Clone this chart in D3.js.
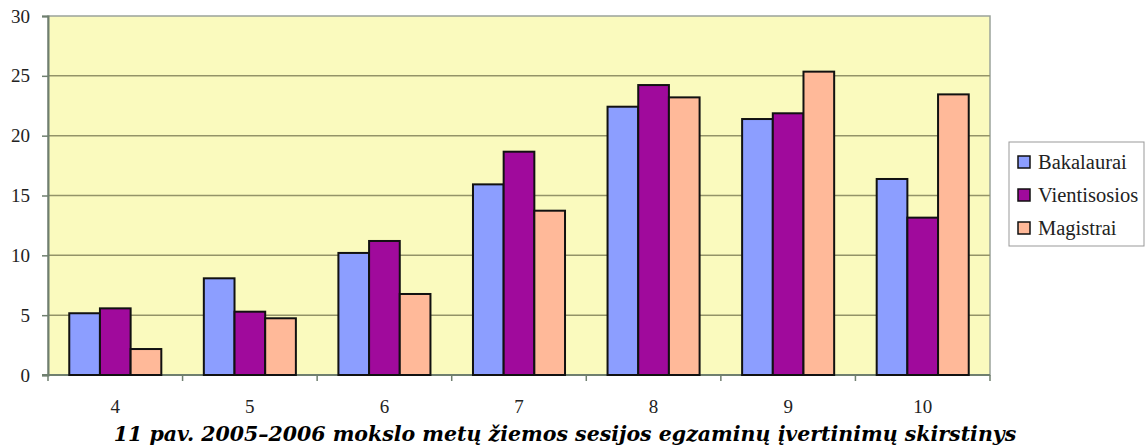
<!DOCTYPE html>
<html>
<head>
<meta charset="utf-8">
<script src="https://cdn.jsdelivr.net/npm/d3@7"></script>
<style>
  body { margin: 0; background: #fff; }
  svg { display: block; }
</style>
</head>
<body>
<div class="container"></div>
<script>
// data
var grades = ["4", "5", "6", "7", "8", "9", "10"];
var seriesNames = ["Bakalaurai", "Vientisosios", "Magistrai"];
var bakalaurai   = [5.16, 8.08, 10.2, 15.93, 22.42, 21.39, 16.38];
var vientisosios = [5.57, 5.29, 11.2, 18.66, 24.23, 21.87, 13.15];
var magistrai    = [2.17, 4.74, 6.77, 13.73, 23.2, 25.35, 23.45];
var yTicks = [0, 5, 10, 15, 20, 25, 30];
var caption = "11 pav. 2005\u20132006 mokslo metų žiemos sesijos egzaminų įvertinimų skirstinys";

var colors = {"Bakalaurai": "#8c9eff", "Vientisosios": "#a00a9c", "Magistrai": "#ffb999"};
var serif = "Liberation Serif";

var width = 1147, height = 446;
var plot = {left: 48, top: 16, right: 990, bottom: 375};

var rows = grades.map(function(g, i) {
  return {grade: g, values: [bakalaurai[i], vientisosios[i], magistrai[i]]};
});

var x0 = d3.scaleBand().domain(grades)
    .range([plot.left, plot.right])
    .paddingInner(0.316).paddingOuter(0.158);
var x1 = d3.scaleBand().domain(seriesNames)
    .range([0, x0.bandwidth()]);
var xCat = d3.scaleBand().domain(grades).range([plot.left, plot.right]);
var y = d3.scaleLinear().domain([0, 30]).range([plot.bottom, plot.top]);

var svg = d3.select(".container").append("svg")
    .attr("width", width).attr("height", height);

// plot background
svg.append("rect")
    .attr("x", plot.left).attr("y", plot.top)
    .attr("width", plot.right - plot.left).attr("height", plot.bottom - plot.top)
    .attr("fill", "#fafabe")
    .attr("stroke", "#9aa39a").attr("stroke-width", 1.5);

// gridlines
svg.append("g").selectAll("line")
  .data(yTicks.filter(function(d) { return d > 0 && d < 30; }))
  .enter().append("line")
    .attr("x1", plot.left).attr("x2", plot.right)
    .attr("y1", function(d) { return y(d); }).attr("y2", function(d) { return y(d); })
    .attr("stroke", "#939368").attr("stroke-width", 1.5);

// y axis
var yAxis = d3.axisLeft(y).tickValues(yTicks).tickSize(6).tickPadding(12);
var gy = svg.append("g").attr("transform", "translate(" + plot.left + ",0)").call(yAxis);
gy.select(".domain").attr("stroke", "#6f7f6f").attr("stroke-width", 2);
gy.selectAll(".tick line").attr("stroke", "#6f7f6f").attr("stroke-width", 1.5);
gy.selectAll("text")
    .style("font-family", serif).style("font-size", "19px").attr("fill", "#222");

// x axis: ticks at category boundaries
var gx = svg.append("g").attr("transform", "translate(0," + plot.bottom + ")");
gx.append("line").attr("x1", plot.left - 6).attr("x2", plot.right)
    .attr("stroke", "#6f7f6f").attr("stroke-width", 2);
var bounds = grades.map(function(g) { return xCat(g); }).concat([plot.right]);
gx.selectAll(".xt").data(bounds).enter().append("line")
    .attr("x1", function(d) { return d; }).attr("x2", function(d) { return d; })
    .attr("y1", 0).attr("y2", 6)
    .attr("stroke", "#6f7f6f").attr("stroke-width", 1.5);
gx.selectAll("text").data(grades).enter().append("text")
    .attr("x", function(d) { return xCat(d) + xCat.bandwidth() / 2; })
    .attr("y", 38)
    .attr("text-anchor", "middle")
    .style("font-family", serif).style("font-size", "19px").attr("fill", "#222")
    .text(function(d) { return d; });

// bars
var groups = svg.append("g").selectAll("g").data(rows).enter().append("g")
    .attr("transform", function(d) { return "translate(" + x0(d.grade) + ",0)"; });
groups.selectAll("rect")
  .data(function(d) { return d.values.map(function(v, i) { return {name: seriesNames[i], value: v}; }); })
  .enter().append("rect")
    .attr("x", function(d) { return x1(d.name); })
    .attr("y", function(d) { return y(d.value); })
    .attr("width", x1.bandwidth())
    .attr("height", function(d) { return y(0) - y(d.value); })
    .attr("fill", function(d) { return colors[d.name]; })
    .attr("stroke", "#111").attr("stroke-width", 2);

// legend
var lg = svg.append("g").attr("transform", "translate(1009,142)");
lg.append("rect").attr("width", 135).attr("height", 104)
    .attr("fill", "#fff").attr("stroke", "#999").attr("stroke-width", 1);
var li = lg.selectAll(".li").data(seriesNames).enter().append("g")
    .attr("transform", function(d, i) { return "translate(9," + (20 + i * 33) + ")"; });
li.append("rect").attr("x", 0).attr("y", -6).attr("width", 12).attr("height", 12)
    .attr("fill", function(d) { return colors[d]; })
    .attr("stroke", "#111").attr("stroke-width", 1.5);
li.append("text").attr("x", 20).attr("y", 7)
    .style("font-family", serif).style("font-size", "20.5px").attr("fill", "#222")
    .text(function(d) { return d; });

// caption
svg.append("text")
    .attr("x", 565).attr("y", 441)
    .attr("text-anchor", "middle")
    .style("font-family", "DejaVu Serif").style("font-weight", "bold").style("font-style", "italic")
    .style("font-size", "20.5px").attr("fill", "#000")
    .text(caption);
</script>
</body>
</html>
